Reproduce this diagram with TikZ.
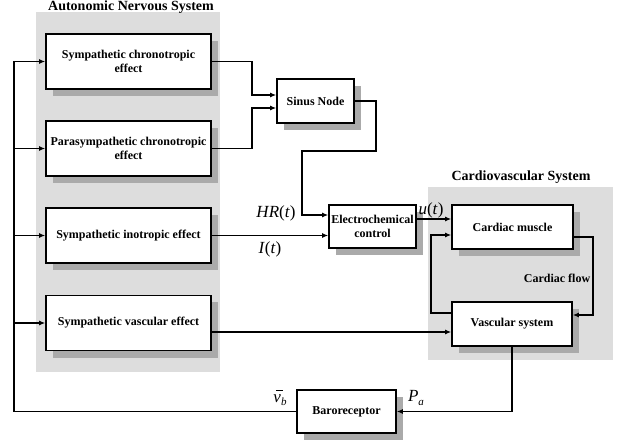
\documentclass[tikz,border=0pt]{standalone}
\usepackage{fontspec}
\setmainfont{Liberation Serif}
\usetikzlibrary{arrows.meta,calc,shadows}
\definecolor{regiongray}{HTML}{DDDDDD}
\definecolor{shadowgray}{HTML}{AAAAAA}
\newcommand{\lowsub}[1]{\raisebox{-3.5pt}{\fontsize{11}{11}\selectfont\textit{#1}}}
\newcommand{\barv}{\rlap{\hspace{2.5pt}\rule[11.5pt]{7pt}{0.8pt}}\textit{v}}
\begin{document}
\begin{tikzpicture}[x=1pt,y=-1pt,
  blk/.style={draw=black, line width=1.6pt, fill=white, align=center,
    font=\fontsize{12}{13.5}\selectfont\bfseries, inner sep=1pt,
    general shadow={fill=shadowgray, shadow xshift=7pt, shadow yshift=-7pt, draw=none}},
  conn/.style={line width=1.5pt},
  arr/.style={conn, -{Latex[length=6pt,width=5pt]}},
  region/.style={fill=regiongray, draw=none},
  ttl/.style={font=\fontsize{14}{16}\selectfont\bfseries, inner sep=0pt},
  mlbl/.style={font=\fontsize{17}{19}\selectfont, inner sep=0pt},
  txt/.style={font=\fontsize{12}{13.5}\selectfont\bfseries}]
\useasboundingbox (0,0) rectangle (618,443);
% regions
\path[region] (36,12) rectangle (220,372);
\path[region] (428,187) rectangle (613,360);
\node[ttl, anchor=north] (ansT) at (131,0.5) {Autonomic Nervous System};
\node[ttl] (cvsT) at (521,177) {Cardiovascular System};
% blocks
\node[blk, minimum width=165, minimum height=55] (b1) at (128.5,61.5) {Sympathetic chronotropic\\effect};
\node[blk, minimum width=165, minimum height=55] (b2) at (128.5,148.5) {Parasympathetic chronotropic\\effect};
\node[blk, minimum width=165, minimum height=55] (b3) at (128.5,235.5) {Sympathetic inotropic effect};
\node[blk, minimum width=165, minimum height=55] (b4) at (128.5,323) {Sympathetic vascular effect};
\node[blk, minimum width=77, minimum height=44] (sinus) at (315.5,101) {Sinus Node};
\node[blk, minimum width=87, minimum height=43] (electro) at (372.5,226.5) {Electrochemical\\control};
\node[blk, minimum width=121, minimum height=44] (cardiac) at (512.5,227) {Cardiac muscle};
\node[blk, minimum width=120, minimum height=44] (vasc) at (512,324) {Vascular system};
\node[blk, minimum width=99, minimum height=43] (baro) at (346.5,411.5) {Baroreceptor};
% connectors
\draw[arr] (b1.east) -- ++(40,0) |- ($(sinus.west)+(0,-6)$);
\draw[arr] (b2.east) -- ++(40,0) |- ($(sinus.west)+(0,7)$);
\coordinate (s1) at (376,151);
\coordinate (s2) at (302,151);
\draw[arr] (sinus.east) -| (s1) -- (s2) |- ($(electro.west)+(0,-11.5)$);
\draw[arr] (b3.east) -- (b3.east -| electro.west);
\draw[arr] ($(electro.east)+(0,-7.5)$) -- ($(cardiac.west)+(0,-8)$);
\coordinate (cf) at (593,237);
\draw[arr] ($(cardiac.east)+(0,10)$) -- (cf) |- ($(vasc.east)+(0,-9)$);
\coordinate (vc) at (431,313);
\draw[arr] ($(vasc.west)+(0,-11)$) -- (vc) |- ($(cardiac.west)+(0,8)$);
\draw[arr] ($(b4.east)+(0,9)$) -- ($(vasc.west)+(0,8)$);
\draw[arr] (vasc.south) |- (baro.east);
\coordinate (fb) at (14,411.5);
\draw[arr] (baro.west) -- (fb) |- (b1.west);
\draw[arr] (fb |- b2.west) -- (b2.west);
\draw[arr] (fb |- b3.west) -- (b3.west);
\draw[arr] (fb |- b4.west) -- (b4.west);
% labels
\node[mlbl] (hr) at (276,213) {\textit{HR}(\textit{t})};
\node[mlbl] (it) at (270,249) {\textit{I}(\textit{t})};
\node[mlbl] (ut) at (431,210) {\textit{u}(\textit{t})};
\node[mlbl] (pa) at (416,398) {\textit{P}\lowsub{a}};
\node[mlbl] (vb) at (280,398) {\barv\lowsub{b}};
\node[txt] (cflow) at (557,278) {Cardiac flow};
\end{tikzpicture}
\end{document}
